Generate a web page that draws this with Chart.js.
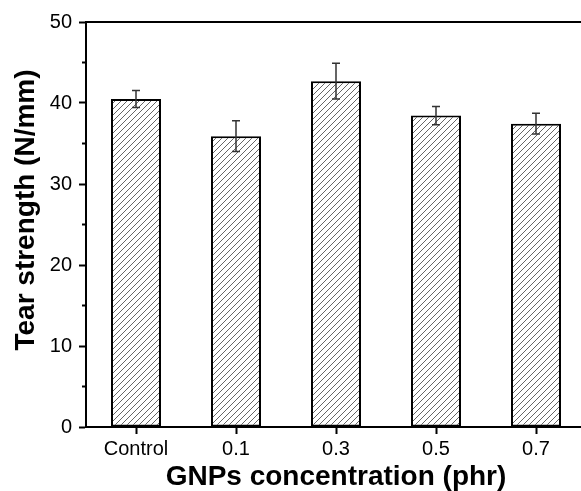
<!DOCTYPE html>
<html>
<head>
<meta charset="utf-8">
<script src="https://cdn.jsdelivr.net/npm/chart.js@4.4.1/dist/chart.umd.min.js"></script>
<style>
  html, body { margin: 0; padding: 0; background: #fff; overflow: hidden; }
</style>
</head>
<body>
<canvas id="myChart" width="600" height="491"></canvas>
<script>
const categories = ['Control', '0.1', '0.3', '0.5', '0.7'];
const tearStrength = [40.5, 35.9, 42.7, 38.45, 37.45];
const tearError = [1.05, 1.9, 2.2, 1.13, 1.28];
const yTicks = [0, 10, 20, 30, 40, 50];
const yMinorTicks = [5, 15, 25, 35, 45];

const fontFamily = '"Liberation Sans", Arial, sans-serif';

// diagonal hatch for the bars
const makeHatch = () => {
    let size = 6;
    let c = document.createElement('canvas');
    c.width = size;
    c.height = size;
    let g = c.getContext('2d');
    g.fillStyle = '#fff';
    g.fillRect(0, 0, size, size);
    g.strokeStyle = '#666';
    g.lineWidth = 1;
    g.beginPath();
    g.moveTo(0, size); g.lineTo(size, 0);
    g.moveTo(-1, 1); g.lineTo(1, -1);
    g.moveTo(size - 1, size + 1); g.lineTo(size + 1, size - 1);
    g.stroke();
    return g.createPattern(c, 'repeat');
};

const extrasPlugin = {
    id: 'extras',
    afterDatasetsDraw(chart) {
        const {ctx, scales: {x, y}} = chart;
        // error bars
        ctx.save();
        ctx.strokeStyle = '#333';
        ctx.lineWidth = 1.5;
        tearStrength.forEach((v, i) => {
            let px = x.getPixelForValue(i);
            let yTop = y.getPixelForValue(v + tearError[i]);
            let yBot = y.getPixelForValue(v - tearError[i]);
            ctx.beginPath();
            ctx.moveTo(px, yTop); ctx.lineTo(px, yBot);
            ctx.moveTo(px - 4, yTop); ctx.lineTo(px + 4, yTop);
            ctx.moveTo(px - 4, yBot); ctx.lineTo(px + 4, yBot);
            ctx.stroke();
        });
        ctx.restore();
    },
    afterDraw(chart) {
        const {ctx, chartArea, scales: {y}} = chart;
        ctx.save();
        ctx.strokeStyle = '#000';
        ctx.lineWidth = 2;
        // frame top
        ctx.beginPath();
        ctx.moveTo(chartArea.left - 1, chartArea.top);
        ctx.lineTo(chartArea.right + 1, chartArea.top);
        ctx.stroke();
        // minor ticks on y
        yMinorTicks.forEach(v => {
            let py = y.getPixelForValue(v);
            ctx.beginPath();
            ctx.moveTo(chartArea.left, py);
            ctx.lineTo(chartArea.left - 4, py);
            ctx.stroke();
        });
        // y title
        ctx.fillStyle = '#000';
        ctx.font = 'bold 28px ' + fontFamily;
        ctx.textAlign = 'center';
        ctx.textBaseline = 'middle';
        ctx.translate(26, 210);
        ctx.rotate(-Math.PI / 2);
        ctx.fillText('Tear strength (N/mm)', 0, 0);
        ctx.restore();
    }
};

new Chart('myChart', {
    type: 'bar',
    data: {
        labels: categories,
        datasets: [{
            data: tearStrength,
            backgroundColor: makeHatch(),
            borderColor: '#000',
            borderWidth: 2,
            borderSkipped: false,
            barPercentage: 0.5,
            categoryPercentage: 1
        }]
    },
    options: {
        responsive: false,
        animation: false,
        layout: { padding: { top: 22, right: 14, left: 0, bottom: 0 } },
        plugins: {
            legend: { display: false },
            tooltip: { enabled: false }
        },
        scales: {
            x: {
                offset: true,
                grid: {
                    offset: false,
                    drawOnChartArea: false,
                    tickLength: 7,
                    tickWidth: 2,
                    tickColor: '#000'
                },
                border: { color: '#000', width: 2 },
                ticks: {
                    color: '#000',
                    padding: 3,
                    font: { family: fontFamily, size: 20 }
                },
                title: {
                    display: true,
                    text: 'GNPs concentration (phr)',
                    color: '#000',
                    padding: 0,
                    font: { family: fontFamily, size: 28, weight: 'bold', lineHeight: 1 }
                },
                afterFit: (scale) => { scale.height = 64; }
            },
            y: {
                min: 0,
                max: 50,
                afterBuildTicks: (scale) => { scale.ticks = yTicks.map(v => ({value: v})); },
                grid: {
                    drawOnChartArea: false,
                    tickLength: 7,
                    tickWidth: 2,
                    tickColor: '#000'
                },
                border: { color: '#000', width: 2 },
                ticks: {
                    color: '#000',
                    padding: 7,
                    font: { family: fontFamily, size: 20 }
                },
                afterFit: (scale) => { scale.width = 86; }
            }
        }
    },
    plugins: [extrasPlugin]
});
</script>
</body>
</html>
